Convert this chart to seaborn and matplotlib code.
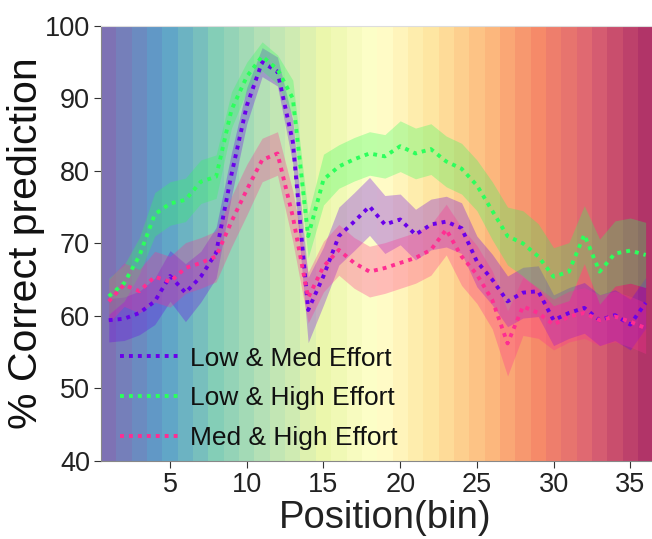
import numpy as np
import pandas as pd
import matplotlib
matplotlib.use("Agg")
import matplotlib.pyplot as plt
import seaborn as sns

# ---------------- data ----------------
bins = list(range(1, 37))

low_med = [59.4, 59.6, 60.4, 62.0, 65.5, 63.2, 65.4, 68.7, 79.5, 89.0, 95.0, 93.7,
           84.0, 60.8, 65.5, 71.0, 73.0, 75.1, 72.6, 73.3, 71.2, 72.6, 73.0, 72.1,
           67.5, 65.0, 62.0, 63.2, 63.4, 59.4, 60.4, 61.1, 59.4, 60.1, 58.8, 61.8]
low_med_err = [3, 3, 3, 3.2, 3.5, 4, 3.5, 3.5, 3, 2.5, 2, 2,
               3, 4.5, 4, 4, 4, 4, 4, 3.5, 3.5, 3.5, 3.5, 3.5,
               3.5, 3.5, 3.5, 3.5, 3.5, 3.5, 3.5, 3.5, 3.5, 3.5, 3.5, 3.5]

low_high = [62.7, 64.5, 68.3, 74.0, 75.5, 76.0, 78.5, 79.2, 88.4, 93.0, 95.8, 94.0,
            90.0, 71.0, 78.8, 80.6, 81.6, 82.4, 82.0, 83.4, 82.4, 83.0, 81.3, 80.3,
            78.0, 74.5, 71.0, 70.0, 68.2, 65.4, 66.1, 71.2, 66.1, 68.6, 69.0, 68.4]
low_high_err = [2.5, 2.5, 2.5, 3, 3, 3, 3, 3, 2.5, 2, 2, 2,
                2.5, 3, 3.5, 3, 3, 3, 3, 3.5, 3.5, 3.5, 3.5, 3.5,
                3.5, 4, 4, 4.5, 4.5, 4, 4, 4, 4.5, 4.5, 4.5, 4.5]

med_high = [62.0, 64.3, 63.4, 65.4, 64.7, 66.6, 67.3, 68.2, 73.0, 77.4, 81.5, 82.4,
            73.7, 62.5, 66.8, 69.1, 67.3, 66.1, 66.6, 67.3, 68.0, 69.1, 71.9, 68.2,
            65.7, 62.2, 56.2, 61.3, 60.4, 58.8, 59.9, 60.4, 59.4, 59.9, 59.2, 58.3]
med_high_err = [3, 3, 3, 3.5, 3.5, 3.5, 3.5, 3.5, 3.5, 3.5, 3, 3,
                3.5, 3.5, 3.5, 3.5, 3.5, 3.5, 3.5, 3.5, 3.5, 3.5, 3.5, 4,
                4, 4, 4.5, 4, 3.5, 3.5, 3.5, 3.5, 3.5, 3.5, 3.5, 3.5]

series_names = ["Low & Med Effort", "Low & High Effort", "Med & High Effort"]
series_colors = ["#6a00ea", "#2cff5c", "#ff2d92"]

yticks = [40, 50, 60, 70, 80, 90, 100]
xticks = [5, 10, 15, 20, 25, 30, 35]
xlabel = "Position(bin)"
ylabel = "% Correct prediction"

# ---------------- style ----------------
sns.set_style("ticks")
plt.rcParams["font.family"] = ["Liberation Sans", "DejaVu Sans"]

fig = plt.figure(figsize=(6.52, 5.39), dpi=100)
ax = fig.add_axes([0.155, 0.145, 0.847, 0.807])

# background stripes (Spectral_r), one per bin
cmap = plt.get_cmap("Spectral_r")
for i, b in enumerate(bins):
    ax.axvspan(b - 0.5, b + 0.5, color=cmap(i / (len(bins) - 1)), alpha=0.8,
               lw=0, zorder=0)

vals = [low_med, low_high, med_high]
errs = [low_med_err, low_high_err, med_high_err]
frames = []
for name, v in zip(series_names, vals):
    frames.append(pd.DataFrame({"bin": bins, "value": v, "series": name}))
df = pd.concat(frames, ignore_index=True)

palette = dict(zip(series_names, series_colors))

for name, v, e, c in zip(series_names, vals, errs, series_colors):
    v = np.asarray(v)
    e = np.asarray(e)
    ax.fill_between(bins, v - e, v + e, color=c, alpha=0.3, lw=0, zorder=2)

sns.lineplot(data=df, x="bin", y="value", hue="series", palette=palette,
             hue_order=series_names, errorbar=None, ax=ax, linewidth=2.8,
             zorder=3)
for line in ax.get_lines():
    line.set_linestyle((0, (1, 1.3)))

ax.set_xlim(0.5, 36.5)
ax.set_ylim(40, 100)
ax.set_xticks(xticks)
ax.set_yticks(yticks)
ax.tick_params(axis="both", labelsize=19.5, colors="#333333", length=5,
               width=0.8, direction="out", pad=3)
for lab in ax.get_xticklabels() + ax.get_yticklabels():
    lab.set_color("#222222")
ax.set_xlabel(xlabel, fontsize=27.5, color="#222222", labelpad=-1)
ax.xaxis.set_label_coords(0.514, -0.09)
ax.set_ylabel(ylabel, fontsize=29.5, color="#111111", labelpad=0)

for s in ["left", "bottom"]:
    ax.spines[s].set_color("#888888")
    ax.spines[s].set_linewidth(0.8)
ax.spines["top"].set_color("#dddddd")
ax.spines["right"].set_visible(False)

handles, labels = ax.get_legend_handles_labels()
for h in handles:
    h.set_linestyle((0, (1, 1.3)))
leg = ax.legend(handles, labels, loc="lower left", bbox_to_anchor=(0.015, 0.0),
                frameon=False, fontsize=19, handlelength=2.2, handletextpad=0.45,
                labelspacing=0.6, borderaxespad=0)
for t in leg.get_texts():
    t.set_color("#111111")

fig.savefig("out.png", dpi=100)
